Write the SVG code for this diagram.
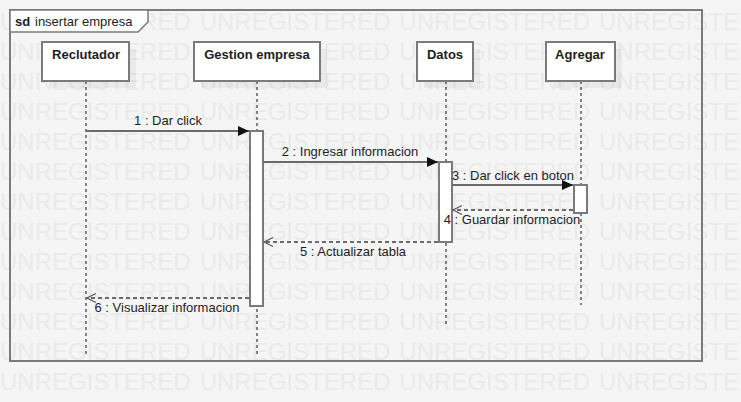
<svg xmlns="http://www.w3.org/2000/svg" width="741" height="402" viewBox="0 0 741 402">
<defs>
<style>
text{font-family:"Liberation Sans",Arial,sans-serif;fill:#1e1e1e}
.wm{font-size:24px;fill:#eaeaea;word-spacing:2.3px}
.name{font-size:13px;font-weight:bold;text-anchor:middle}
.lbl{font-size:13px;text-anchor:middle}
.head{fill:#fff;stroke:#7b7b7b;stroke-width:2}
.shadow{fill:#000;opacity:0.045}
.act{fill:#fff;stroke:#7b7b7b;stroke-width:2}
.life{stroke:#111;stroke-width:1;stroke-dasharray:3,3;fill:none}
.msg{stroke:#6a6a6a;stroke-width:2;fill:none}
.ret{stroke:#6a6a6a;stroke-width:2;stroke-dasharray:4,3;fill:none}
</style>
<marker id="filled" markerWidth="12" markerHeight="10" refX="11" refY="5" orient="auto" markerUnits="userSpaceOnUse">
<path d="M0,0 L11,5 L0,10 Z" fill="#111"/>
</marker>
<marker id="open" markerWidth="12" markerHeight="12" refX="10" refY="6" orient="auto" markerUnits="userSpaceOnUse">
<path d="M1,1.5 L10,6 L1,10.5" fill="none" stroke="#555" stroke-width="1.2"/>
</marker>
</defs>
<rect x="0" y="0" width="741" height="402" fill="#f5f5f5"/>
<g id="watermark">
<text class="wm" x="0" y="30">UNREGISTERED UNREGISTERED UNREGISTERED UNREGISTE</text>
<text class="wm" x="0" y="60">UNREGISTERED UNREGISTERED UNREGISTERED UNREGISTE</text>
<text class="wm" x="0" y="90">UNREGISTERED UNREGISTERED UNREGISTERED UNREGISTE</text>
<text class="wm" x="0" y="120">UNREGISTERED UNREGISTERED UNREGISTERED UNREGISTE</text>
<text class="wm" x="0" y="150">UNREGISTERED UNREGISTERED UNREGISTERED UNREGISTE</text>
<text class="wm" x="0" y="180">UNREGISTERED UNREGISTERED UNREGISTERED UNREGISTE</text>
<text class="wm" x="0" y="210">UNREGISTERED UNREGISTERED UNREGISTERED UNREGISTE</text>
<text class="wm" x="0" y="240">UNREGISTERED UNREGISTERED UNREGISTERED UNREGISTE</text>
<text class="wm" x="0" y="270">UNREGISTERED UNREGISTERED UNREGISTERED UNREGISTE</text>
<text class="wm" x="0" y="300">UNREGISTERED UNREGISTERED UNREGISTERED UNREGISTE</text>
<text class="wm" x="0" y="330">UNREGISTERED UNREGISTERED UNREGISTERED UNREGISTE</text>
<text class="wm" x="0" y="360">UNREGISTERED UNREGISTERED UNREGISTERED UNREGISTE</text>
<text class="wm" x="0" y="390">UNREGISTERED UNREGISTERED UNREGISTERED UNREGISTE</text>
</g>
<g id="frame">
<rect x="10" y="10" width="692" height="351" fill="none" stroke="#7b7b7b" stroke-width="2"/>
<path d="M10,10 H148 V22 L138,32 H10 Z" fill="#fff" stroke="#7b7b7b" stroke-width="1.5"/>
<text x="15" y="26" style="font-size:13px;font-weight:bold">sd</text>
<text x="35" y="26" style="font-size:13px">insertar empresa</text>
</g>
<g id="lifelines">
<line class="life" x1="86" y1="81" x2="86" y2="355"/>
<line class="life" x1="257" y1="81" x2="257" y2="355"/>
<line class="life" x1="446" y1="81" x2="446" y2="325"/>
<line class="life" x1="581" y1="81" x2="581" y2="305"/>
</g>
<g id="reclutador">
<rect class="shadow" x="49" y="49" width="87" height="39"/>
<rect class="head" x="42" y="42" width="87" height="39"/>
<text class="name" x="86" y="59">Reclutador</text>
</g>
<g id="gestion-empresa">
<rect class="shadow" x="201" y="49" width="126" height="39"/>
<rect class="head" x="194" y="42" width="126" height="39"/>
<text class="name" x="257" y="59">Gestion empresa</text>
<rect class="act" x="250" y="131" width="13" height="175"/>
</g>
<g id="datos">
<rect class="shadow" x="424" y="49" width="56" height="39"/>
<rect class="head" x="417" y="42" width="56" height="39"/>
<text class="name" x="445" y="59">Datos</text>
<rect class="act" x="439" y="162" width="13" height="80"/>
</g>
<g id="agregar">
<rect class="shadow" x="553" y="49" width="69" height="39"/>
<rect class="head" x="546" y="42" width="69" height="39"/>
<text class="name" x="580" y="59">Agregar</text>
<rect class="act" x="574" y="185" width="13" height="28"/>
</g>
<g id="connectors">
<line class="msg" x1="86" y1="131" x2="249" y2="131" marker-end="url(#filled)"/>
<text class="lbl" x="168" y="125">1 : Dar click</text>
<line class="msg" x1="263" y1="162" x2="438" y2="162" marker-end="url(#filled)"/>
<text class="lbl" x="350" y="156">2 : Ingresar informacion</text>
<line class="msg" x1="452" y1="185" x2="573" y2="185" marker-end="url(#filled)"/>
<text class="lbl" x="513" y="180">3 : Dar click en boton</text>
<line class="ret" x1="573" y1="210" x2="453" y2="210" marker-end="url(#open)"/>
<text class="lbl" x="512" y="224">4 : Guardar informacion</text>
<line class="ret" x1="438" y1="242" x2="264" y2="242" marker-end="url(#open)"/>
<text class="lbl" x="353" y="256">5 : Actualizar tabla</text>
<line class="ret" x1="249" y1="298" x2="87" y2="298" marker-end="url(#open)"/>
<text class="lbl" x="167" y="312">6 : Visualizar informacion</text>
</g>
</svg>
